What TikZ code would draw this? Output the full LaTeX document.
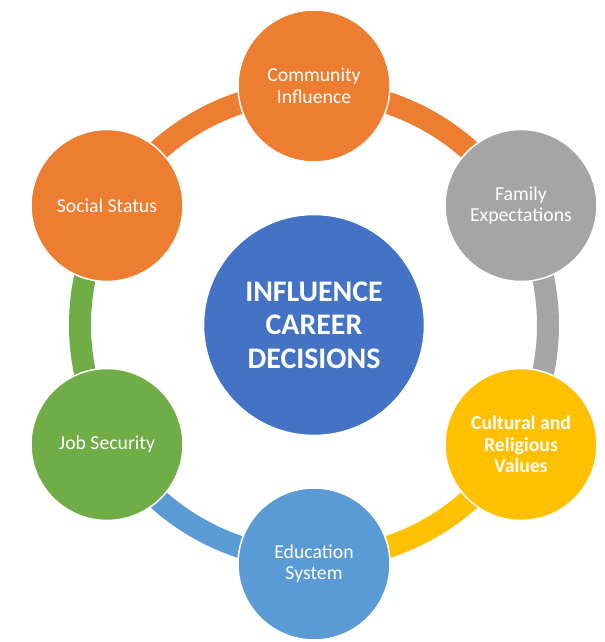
\documentclass[tikz,border=0pt]{standalone}
\usepackage{fontspec}
\setmainfont{Carlito}
\usepackage{tikz}
\definecolor{corange}{RGB}{237, 125, 49}
\definecolor{cgray}{RGB}{165, 165, 165}
\definecolor{cyellow}{RGB}{255, 192, 0}
\definecolor{cblue}{RGB}{68, 114, 196}
\definecolor{clblue}{RGB}{91, 155, 213}
\definecolor{cgreen}{RGB}{112, 173, 71}

\begin{document}
\begin{tikzpicture}[x = 1bp, y = 1bp,
	factor/.style = {circle, draw = white, line width = 1.5bp, minimum size = 152bp, inner sep = 0pt, align = center, text = white, font = \fontsize{19.8}{21.5}\selectfont},
	band/.style = {line width = 22bp}]
			\useasboundingbox (0,0) rectangle (605,642);
			\node (hub) at (314,317) [circle, draw = white, line width = 1.5bp, fill = cblue, minimum size = 221bp, align = center, text = white, font = \fontsize{30}{33.5}\selectfont\bfseries] {INFLUENCE\\CAREER\\DECISIONS};
			\draw [band, corange] ([shift = {(90:234)}]hub.center) arc [start angle = 90, end angle = 30, radius = 234];
			\draw [band, cgray] ([shift = {(30:234)}]hub.center) arc [start angle = 30, end angle = -30, radius = 234];
			\draw [band, cyellow] ([shift = {(-30:234)}]hub.center) arc [start angle = -30, end angle = -90, radius = 234];
			\draw [band, clblue] ([shift = {(-90:234)}]hub.center) arc [start angle = -90, end angle = -150, radius = 234];
			\draw [band, cgreen] ([shift = {(210:234)}]hub.center) arc [start angle = 210, end angle = 150, radius = 234];
			\draw [band, corange] ([shift = {(150:234)}]hub.center) arc [start angle = 150, end angle = 90, radius = 234];
			\node (a) at (314,556) [factor, fill = corange] {Community\\Influence};
			\node (b) at (521,436.5) [factor, fill = cgray] {Family\\Expectations};
			\node (c) at (521,197.5) [factor, fill = cyellow, font = \fontsize{19.8}{21.5}\selectfont\bfseries] {Cultural and\\Religious\\Values};
			\node (d) at (314,78) [factor, fill = clblue] {Education\\System};
			\node (e) at (107,197.5) [factor, fill = cgreen] {Job Security};
			\node (f) at (107,436.5) [factor, fill = corange] {Social Status};
			\end{tikzpicture}
\end{document}
